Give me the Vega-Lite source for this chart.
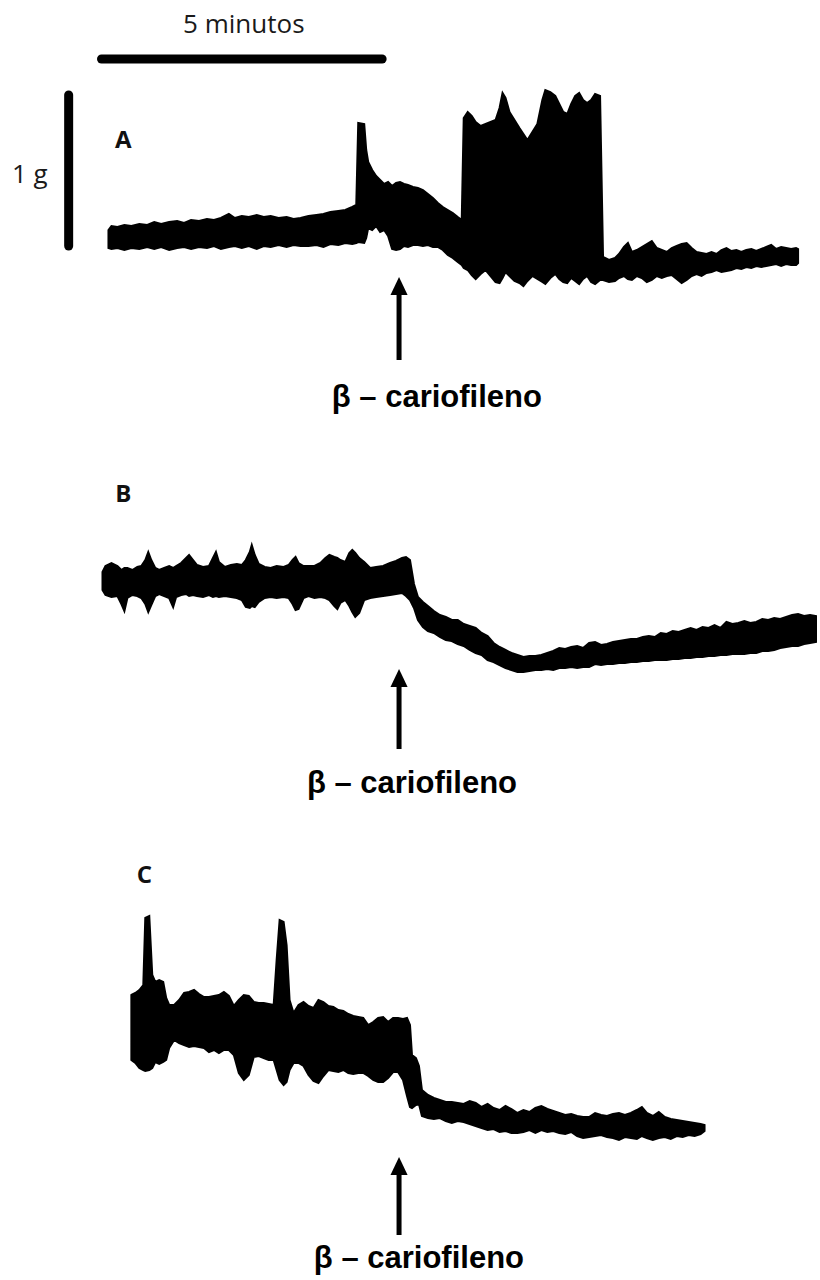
{
  "$schema": "https://vega.github.io/schema/vega-lite/v6.json",
  "width": 820,
  "height": 1280,
  "autosize": {"type": "fit", "contains": "padding"},
  "padding": 0,
  "background": "white",
  "config": {"view": {"stroke": null}},
  "datasets": {
    "traces": [
      {"trace":"A","t":109,"hi":230,"lo":248},{"trace":"A","t":112,"hi":226,"lo":249},{"trace":"A","t":118,"hi":227,"lo":248},{"trace":"A","t":125,"hi":225,"lo":250},{"trace":"A","t":132,"hi":226,"lo":248},{"trace":"A","t":140,"hi":224,"lo":249},{"trace":"A","t":148,"hi":225,"lo":247},{"trace":"A","t":155,"hi":222,"lo":249},{"trace":"A","t":162,"hi":224,"lo":247},{"trace":"A","t":170,"hi":222,"lo":250},{"trace":"A","t":178,"hi":221,"lo":248},{"trace":"A","t":185,"hi":223,"lo":247},{"trace":"A","t":192,"hi":220,"lo":249},{"trace":"A","t":200,"hi":221,"lo":247},{"trace":"A","t":208,"hi":219,"lo":248},{"trace":"A","t":215,"hi":220,"lo":246},{"trace":"A","t":222,"hi":218,"lo":249},{"trace":"A","t":230,"hi":214,"lo":247},{"trace":"A","t":236,"hi":218,"lo":246},{"trace":"A","t":243,"hi":216,"lo":248},{"trace":"A","t":250,"hi":217,"lo":246},{"trace":"A","t":258,"hi":215,"lo":249},{"trace":"A","t":265,"hi":217,"lo":246},{"trace":"A","t":272,"hi":216,"lo":247},{"trace":"A","t":280,"hi":218,"lo":245},{"trace":"A","t":288,"hi":217,"lo":247},{"trace":"A","t":295,"hi":219,"lo":245},{"trace":"A","t":302,"hi":218,"lo":246},{"trace":"A","t":310,"hi":216,"lo":246},{"trace":"A","t":318,"hi":215,"lo":245},{"trace":"A","t":325,"hi":214,"lo":247},{"trace":"A","t":332,"hi":212,"lo":244},{"trace":"A","t":340,"hi":211,"lo":245},{"trace":"A","t":347,"hi":210,"lo":243},{"trace":"A","t":354,"hi":207,"lo":244},{"trace":"A","t":358,"hi":205,"lo":243},{"trace":"A","t":360,"hi":123,"lo":242},{"trace":"A","t":366,"hi":124,"lo":243},{"trace":"A","t":368,"hi":150,"lo":238},{"trace":"A","t":370,"hi":162,"lo":228},{"trace":"A","t":374,"hi":170,"lo":230},{"trace":"A","t":378,"hi":176,"lo":226},{"trace":"A","t":382,"hi":180,"lo":232},{"trace":"A","t":386,"hi":184,"lo":230},{"trace":"A","t":390,"hi":182,"lo":236},{"trace":"A","t":394,"hi":186,"lo":249},{"trace":"A","t":398,"hi":183,"lo":250},{"trace":"A","t":402,"hi":182,"lo":249},{"trace":"A","t":406,"hi":184,"lo":246},{"trace":"A","t":410,"hi":185,"lo":247},{"trace":"A","t":415,"hi":187,"lo":245},{"trace":"A","t":420,"hi":188,"lo":245},{"trace":"A","t":425,"hi":190,"lo":246},{"trace":"A","t":430,"hi":194,"lo":245},{"trace":"A","t":435,"hi":198,"lo":247},{"trace":"A","t":440,"hi":203,"lo":247},{"trace":"A","t":445,"hi":207,"lo":250},{"trace":"A","t":450,"hi":210,"lo":255},{"trace":"A","t":455,"hi":213,"lo":258},{"trace":"A","t":460,"hi":217,"lo":262},{"trace":"A","t":464,"hi":220,"lo":265},{"trace":"A","t":466,"hi":118,"lo":268},{"trace":"A","t":470,"hi":112,"lo":270},{"trace":"A","t":474,"hi":116,"lo":275},{"trace":"A","t":478,"hi":122,"lo":279},{"trace":"A","t":483,"hi":126,"lo":274},{"trace":"A","t":488,"hi":124,"lo":270},{"trace":"A","t":493,"hi":122,"lo":276},{"trace":"A","t":498,"hi":120,"lo":282},{"trace":"A","t":502,"hi":108,"lo":283},{"trace":"A","t":505,"hi":93,"lo":278},{"trace":"A","t":508,"hi":98,"lo":272},{"trace":"A","t":512,"hi":112,"lo":276},{"trace":"A","t":517,"hi":120,"lo":281},{"trace":"A","t":522,"hi":128,"lo":283},{"trace":"A","t":526,"hi":134,"lo":286},{"trace":"A","t":530,"hi":140,"lo":281},{"trace":"A","t":535,"hi":132,"lo":276},{"trace":"A","t":540,"hi":124,"lo":279},{"trace":"A","t":545,"hi":100,"lo":282},{"trace":"A","t":548,"hi":90,"lo":284},{"trace":"A","t":553,"hi":92,"lo":278},{"trace":"A","t":558,"hi":96,"lo":274},{"trace":"A","t":562,"hi":104,"lo":279},{"trace":"A","t":566,"hi":112,"lo":282},{"trace":"A","t":570,"hi":114,"lo":283},{"trace":"A","t":574,"hi":104,"lo":278},{"trace":"A","t":578,"hi":96,"lo":281},{"trace":"A","t":582,"hi":93,"lo":284},{"trace":"A","t":586,"hi":100,"lo":279},{"trace":"A","t":590,"hi":103,"lo":276},{"trace":"A","t":594,"hi":100,"lo":282},{"trace":"A","t":598,"hi":94,"lo":284},{"trace":"A","t":603,"hi":96,"lo":280},{"trace":"A","t":606,"hi":257,"lo":280},{"trace":"A","t":612,"hi":260,"lo":282},{"trace":"A","t":618,"hi":258,"lo":281},{"trace":"A","t":622,"hi":254,"lo":278},{"trace":"A","t":627,"hi":247,"lo":276},{"trace":"A","t":631,"hi":243,"lo":279},{"trace":"A","t":635,"hi":252,"lo":280},{"trace":"A","t":640,"hi":250,"lo":276},{"trace":"A","t":645,"hi":247,"lo":278},{"trace":"A","t":650,"hi":244,"lo":282},{"trace":"A","t":655,"hi":241,"lo":280},{"trace":"A","t":660,"hi":248,"lo":276},{"trace":"A","t":665,"hi":250,"lo":278},{"trace":"A","t":670,"hi":252,"lo":276},{"trace":"A","t":675,"hi":248,"lo":275},{"trace":"A","t":680,"hi":246,"lo":279},{"trace":"A","t":685,"hi":244,"lo":283},{"trace":"A","t":690,"hi":243,"lo":280},{"trace":"A","t":695,"hi":248,"lo":276},{"trace":"A","t":700,"hi":252,"lo":274},{"trace":"A","t":705,"hi":253,"lo":276},{"trace":"A","t":710,"hi":254,"lo":273},{"trace":"A","t":715,"hi":252,"lo":272},{"trace":"A","t":720,"hi":254,"lo":270},{"trace":"A","t":725,"hi":250,"lo":272},{"trace":"A","t":730,"hi":248,"lo":271},{"trace":"A","t":735,"hi":251,"lo":270},{"trace":"A","t":740,"hi":250,"lo":268},{"trace":"A","t":745,"hi":252,"lo":269},{"trace":"A","t":750,"hi":250,"lo":267},{"trace":"A","t":755,"hi":249,"lo":268},{"trace":"A","t":760,"hi":251,"lo":266},{"trace":"A","t":765,"hi":249,"lo":267},{"trace":"A","t":770,"hi":247,"lo":266},{"trace":"A","t":775,"hi":245,"lo":265},{"trace":"A","t":780,"hi":249,"lo":264},{"trace":"A","t":785,"hi":247,"lo":266},{"trace":"A","t":790,"hi":248,"lo":264},{"trace":"A","t":795,"hi":249,"lo":265},{"trace":"A","t":800,"hi":248,"lo":265},{"trace":"A","t":802,"hi":249,"lo":263},

      {"trace":"B","t":103,"hi":572,"lo":590},{"trace":"B","t":106,"hi":566,"lo":595},{"trace":"B","t":112,"hi":563,"lo":597},{"trace":"B","t":118,"hi":566,"lo":596},{"trace":"B","t":122,"hi":570,"lo":604},{"trace":"B","t":125,"hi":568,"lo":611},{"trace":"B","t":128,"hi":568,"lo":598},{"trace":"B","t":133,"hi":570,"lo":595},{"trace":"B","t":138,"hi":567,"lo":596},{"trace":"B","t":142,"hi":566,"lo":598},{"trace":"B","t":146,"hi":560,"lo":604},{"trace":"B","t":149,"hi":552,"lo":612},{"trace":"B","t":152,"hi":560,"lo":605},{"trace":"B","t":156,"hi":568,"lo":596},{"trace":"B","t":160,"hi":570,"lo":594},{"trace":"B","t":165,"hi":568,"lo":596},{"trace":"B","t":170,"hi":566,"lo":598},{"trace":"B","t":174,"hi":568,"lo":607},{"trace":"B","t":177,"hi":566,"lo":597},{"trace":"B","t":182,"hi":563,"lo":595},{"trace":"B","t":187,"hi":558,"lo":594},{"trace":"B","t":190,"hi":555,"lo":596},{"trace":"B","t":194,"hi":560,"lo":595},{"trace":"B","t":198,"hi":565,"lo":596},{"trace":"B","t":204,"hi":567,"lo":597},{"trace":"B","t":210,"hi":566,"lo":595},{"trace":"B","t":214,"hi":558,"lo":597},{"trace":"B","t":217,"hi":552,"lo":596},{"trace":"B","t":220,"hi":562,"lo":597},{"trace":"B","t":226,"hi":567,"lo":596},{"trace":"B","t":232,"hi":565,"lo":597},{"trace":"B","t":238,"hi":564,"lo":598},{"trace":"B","t":243,"hi":565,"lo":600},{"trace":"B","t":247,"hi":560,"lo":607},{"trace":"B","t":251,"hi":552,"lo":608},{"trace":"B","t":253,"hi":545,"lo":606},{"trace":"B","t":256,"hi":555,"lo":607},{"trace":"B","t":260,"hi":564,"lo":602},{"trace":"B","t":266,"hi":567,"lo":598},{"trace":"B","t":272,"hi":568,"lo":597},{"trace":"B","t":278,"hi":566,"lo":598},{"trace":"B","t":285,"hi":567,"lo":597},{"trace":"B","t":290,"hi":565,"lo":598},{"trace":"B","t":294,"hi":560,"lo":604},{"trace":"B","t":297,"hi":557,"lo":610},{"trace":"B","t":300,"hi":563,"lo":609},{"trace":"B","t":305,"hi":566,"lo":598},{"trace":"B","t":310,"hi":566,"lo":596},{"trace":"B","t":316,"hi":566,"lo":598},{"trace":"B","t":322,"hi":563,"lo":597},{"trace":"B","t":327,"hi":558,"lo":598},{"trace":"B","t":331,"hi":555,"lo":600},{"trace":"B","t":336,"hi":557,"lo":606},{"trace":"B","t":339,"hi":558,"lo":609},{"trace":"B","t":342,"hi":560,"lo":603},{"trace":"B","t":347,"hi":562,"lo":600},{"trace":"B","t":351,"hi":553,"lo":606},{"trace":"B","t":354,"hi":550,"lo":612},{"trace":"B","t":357,"hi":553,"lo":617},{"trace":"B","t":361,"hi":558,"lo":613},{"trace":"B","t":366,"hi":562,"lo":600},{"trace":"B","t":372,"hi":568,"lo":598},{"trace":"B","t":378,"hi":567,"lo":597},{"trace":"B","t":385,"hi":566,"lo":596},{"trace":"B","t":392,"hi":563,"lo":595},{"trace":"B","t":398,"hi":561,"lo":594},{"trace":"B","t":404,"hi":558,"lo":593},{"trace":"B","t":408,"hi":557,"lo":596},{"trace":"B","t":412,"hi":560,"lo":600},{"trace":"B","t":416,"hi":584,"lo":608},{"trace":"B","t":420,"hi":597,"lo":620},{"trace":"B","t":425,"hi":602,"lo":627},{"trace":"B","t":430,"hi":606,"lo":631},{"trace":"B","t":436,"hi":611,"lo":633},{"trace":"B","t":442,"hi":615,"lo":637},{"trace":"B","t":448,"hi":617,"lo":640},{"trace":"B","t":454,"hi":620,"lo":641},{"trace":"B","t":460,"hi":620,"lo":644},{"trace":"B","t":466,"hi":624,"lo":646},{"trace":"B","t":472,"hi":626,"lo":650},{"trace":"B","t":478,"hi":628,"lo":653},{"trace":"B","t":484,"hi":633,"lo":655},{"trace":"B","t":490,"hi":636,"lo":660},{"trace":"B","t":496,"hi":643,"lo":662},{"trace":"B","t":502,"hi":647,"lo":665},{"trace":"B","t":508,"hi":650,"lo":668},{"trace":"B","t":514,"hi":653,"lo":670},{"trace":"B","t":520,"hi":655,"lo":672},{"trace":"B","t":526,"hi":657,"lo":672},{"trace":"B","t":532,"hi":656,"lo":671},{"trace":"B","t":538,"hi":656,"lo":670},{"trace":"B","t":544,"hi":655,"lo":670},{"trace":"B","t":550,"hi":653,"lo":669},{"trace":"B","t":556,"hi":651,"lo":670},{"trace":"B","t":562,"hi":648,"lo":668},{"trace":"B","t":568,"hi":649,"lo":668},{"trace":"B","t":574,"hi":647,"lo":667},{"trace":"B","t":580,"hi":646,"lo":668},{"trace":"B","t":586,"hi":648,"lo":667},{"trace":"B","t":592,"hi":643,"lo":667},{"trace":"B","t":598,"hi":642,"lo":664},{"trace":"B","t":604,"hi":645,"lo":665},{"trace":"B","t":610,"hi":644,"lo":664},{"trace":"B","t":616,"hi":642,"lo":664},{"trace":"B","t":622,"hi":641,"lo":663},{"trace":"B","t":628,"hi":640,"lo":663},{"trace":"B","t":634,"hi":639,"lo":662},{"trace":"B","t":640,"hi":639,"lo":662},{"trace":"B","t":646,"hi":637,"lo":661},{"trace":"B","t":652,"hi":636,"lo":661},{"trace":"B","t":658,"hi":637,"lo":660},{"trace":"B","t":664,"hi":633,"lo":660},{"trace":"B","t":670,"hi":634,"lo":660},{"trace":"B","t":676,"hi":631,"lo":659},{"trace":"B","t":682,"hi":632,"lo":659},{"trace":"B","t":688,"hi":630,"lo":658},{"trace":"B","t":694,"hi":628,"lo":658},{"trace":"B","t":700,"hi":630,"lo":657},{"trace":"B","t":706,"hi":627,"lo":657},{"trace":"B","t":712,"hi":628,"lo":656},{"trace":"B","t":718,"hi":625,"lo":656},{"trace":"B","t":724,"hi":628,"lo":655},{"trace":"B","t":730,"hi":622,"lo":655},{"trace":"B","t":736,"hi":624,"lo":654},{"trace":"B","t":742,"hi":623,"lo":654},{"trace":"B","t":748,"hi":621,"lo":654},{"trace":"B","t":754,"hi":623,"lo":653},{"trace":"B","t":760,"hi":622,"lo":653},{"trace":"B","t":766,"hi":619,"lo":651},{"trace":"B","t":772,"hi":620,"lo":651},{"trace":"B","t":778,"hi":618,"lo":650},{"trace":"B","t":784,"hi":619,"lo":648},{"trace":"B","t":790,"hi":617,"lo":647},{"trace":"B","t":796,"hi":615,"lo":646},{"trace":"B","t":802,"hi":614,"lo":646},{"trace":"B","t":808,"hi":616,"lo":644},{"trace":"B","t":814,"hi":615,"lo":643},{"trace":"B","t":820,"hi":616,"lo":642},

      {"trace":"C","t":132,"hi":995,"lo":1060},{"trace":"C","t":136,"hi":993,"lo":1063},{"trace":"C","t":140,"hi":990,"lo":1068},{"trace":"C","t":144,"hi":985,"lo":1070},{"trace":"C","t":146,"hi":918,"lo":1071},{"trace":"C","t":150,"hi":916,"lo":1070},{"trace":"C","t":153,"hi":975,"lo":1068},{"trace":"C","t":156,"hi":982,"lo":1062},{"trace":"C","t":160,"hi":980,"lo":1064},{"trace":"C","t":164,"hi":982,"lo":1062},{"trace":"C","t":167,"hi":998,"lo":1060},{"trace":"C","t":170,"hi":1005,"lo":1048},{"trace":"C","t":175,"hi":1005,"lo":1040},{"trace":"C","t":180,"hi":1000,"lo":1043},{"trace":"C","t":185,"hi":993,"lo":1045},{"trace":"C","t":190,"hi":992,"lo":1047},{"trace":"C","t":195,"hi":990,"lo":1046},{"trace":"C","t":200,"hi":994,"lo":1047},{"trace":"C","t":205,"hi":997,"lo":1048},{"trace":"C","t":210,"hi":997,"lo":1052},{"trace":"C","t":215,"hi":996,"lo":1050},{"trace":"C","t":220,"hi":995,"lo":1053},{"trace":"C","t":225,"hi":992,"lo":1050},{"trace":"C","t":230,"hi":996,"lo":1050},{"trace":"C","t":235,"hi":1006,"lo":1055},{"trace":"C","t":240,"hi":1000,"lo":1073},{"trace":"C","t":245,"hi":995,"lo":1080},{"trace":"C","t":250,"hi":996,"lo":1075},{"trace":"C","t":255,"hi":1002,"lo":1057},{"trace":"C","t":260,"hi":1003,"lo":1056},{"trace":"C","t":265,"hi":1003,"lo":1058},{"trace":"C","t":270,"hi":1004,"lo":1060},{"trace":"C","t":275,"hi":1005,"lo":1060},{"trace":"C","t":278,"hi":960,"lo":1070},{"trace":"C","t":281,"hi":920,"lo":1080},{"trace":"C","t":285,"hi":922,"lo":1085},{"trace":"C","t":288,"hi":945,"lo":1082},{"trace":"C","t":291,"hi":1000,"lo":1070},{"trace":"C","t":295,"hi":1013,"lo":1063},{"trace":"C","t":300,"hi":1005,"lo":1063},{"trace":"C","t":305,"hi":1002,"lo":1066},{"trace":"C","t":310,"hi":1006,"lo":1075},{"trace":"C","t":315,"hi":1008,"lo":1081},{"trace":"C","t":320,"hi":1000,"lo":1083},{"trace":"C","t":325,"hi":1002,"lo":1076},{"trace":"C","t":330,"hi":1006,"lo":1070},{"trace":"C","t":335,"hi":1007,"lo":1071},{"trace":"C","t":340,"hi":1010,"lo":1072},{"trace":"C","t":345,"hi":1011,"lo":1070},{"trace":"C","t":350,"hi":1014,"lo":1073},{"trace":"C","t":355,"hi":1016,"lo":1074},{"trace":"C","t":360,"hi":1017,"lo":1073},{"trace":"C","t":365,"hi":1018,"lo":1073},{"trace":"C","t":370,"hi":1025,"lo":1076},{"trace":"C","t":375,"hi":1022,"lo":1080},{"trace":"C","t":380,"hi":1018,"lo":1082},{"trace":"C","t":385,"hi":1017,"lo":1082},{"trace":"C","t":390,"hi":1022,"lo":1078},{"trace":"C","t":395,"hi":1018,"lo":1072},{"trace":"C","t":400,"hi":1018,"lo":1072},{"trace":"C","t":405,"hi":1019,"lo":1080},{"trace":"C","t":409,"hi":1018,"lo":1096},{"trace":"C","t":412,"hi":1025,"lo":1107},{"trace":"C","t":414,"hi":1055,"lo":1108},{"trace":"C","t":418,"hi":1058,"lo":1105},{"trace":"C","t":421,"hi":1066,"lo":1104},{"trace":"C","t":424,"hi":1090,"lo":1116},{"trace":"C","t":430,"hi":1095,"lo":1118},{"trace":"C","t":436,"hi":1098,"lo":1119},{"trace":"C","t":442,"hi":1100,"lo":1118},{"trace":"C","t":448,"hi":1102,"lo":1121},{"trace":"C","t":454,"hi":1102,"lo":1123},{"trace":"C","t":460,"hi":1103,"lo":1121},{"trace":"C","t":466,"hi":1104,"lo":1122},{"trace":"C","t":472,"hi":1101,"lo":1124},{"trace":"C","t":478,"hi":1103,"lo":1126},{"trace":"C","t":484,"hi":1107,"lo":1128},{"trace":"C","t":490,"hi":1104,"lo":1130},{"trace":"C","t":496,"hi":1108,"lo":1129},{"trace":"C","t":502,"hi":1110,"lo":1132},{"trace":"C","t":508,"hi":1106,"lo":1131},{"trace":"C","t":514,"hi":1109,"lo":1133},{"trace":"C","t":520,"hi":1113,"lo":1133},{"trace":"C","t":526,"hi":1110,"lo":1132},{"trace":"C","t":532,"hi":1112,"lo":1130},{"trace":"C","t":538,"hi":1108,"lo":1133},{"trace":"C","t":544,"hi":1106,"lo":1130},{"trace":"C","t":550,"hi":1109,"lo":1132},{"trace":"C","t":556,"hi":1111,"lo":1131},{"trace":"C","t":562,"hi":1113,"lo":1133},{"trace":"C","t":568,"hi":1115,"lo":1134},{"trace":"C","t":574,"hi":1114,"lo":1132},{"trace":"C","t":580,"hi":1116,"lo":1136},{"trace":"C","t":586,"hi":1117,"lo":1138},{"trace":"C","t":592,"hi":1117,"lo":1137},{"trace":"C","t":598,"hi":1113,"lo":1136},{"trace":"C","t":604,"hi":1115,"lo":1135},{"trace":"C","t":610,"hi":1116,"lo":1137},{"trace":"C","t":616,"hi":1114,"lo":1138},{"trace":"C","t":622,"hi":1113,"lo":1140},{"trace":"C","t":628,"hi":1115,"lo":1137},{"trace":"C","t":634,"hi":1113,"lo":1138},{"trace":"C","t":640,"hi":1110,"lo":1139},{"trace":"C","t":645,"hi":1107,"lo":1136},{"trace":"C","t":650,"hi":1113,"lo":1138},{"trace":"C","t":656,"hi":1116,"lo":1140},{"trace":"C","t":662,"hi":1112,"lo":1138},{"trace":"C","t":668,"hi":1117,"lo":1137},{"trace":"C","t":674,"hi":1119,"lo":1139},{"trace":"C","t":680,"hi":1120,"lo":1136},{"trace":"C","t":686,"hi":1121,"lo":1137},{"trace":"C","t":692,"hi":1122,"lo":1135},{"trace":"C","t":698,"hi":1123,"lo":1136},{"trace":"C","t":704,"hi":1124,"lo":1134},{"trace":"C","t":708,"hi":1125,"lo":1131}
    ],
    "scalebars": [
      {"bar":"5 minutos","x":102,"x2":384,"y":59,"y2":59},
      {"bar":"1 g","x":69,"x2":69,"y":95,"y2":246}
    ],
    "shafts": [
      {"panel":"A","x":401,"y":290,"y2":360},
      {"panel":"B","x":401,"y":682,"y2":749},
      {"panel":"C","x":401,"y":1170,"y2":1235}
    ],
    "heads": [
      {"panel":"A","x":401,"y":286},
      {"panel":"B","x":401,"y":678},
      {"panel":"C","x":401,"y":1166}
    ],
    "drugLabels": [
      {"panel":"A","x":439,"y":407,"label":"β – cariofileno"},
      {"panel":"B","x":414,"y":793,"label":"β – cariofileno"},
      {"panel":"C","x":421,"y":1268,"label":"β – cariofileno"}
    ],
    "panelLetters": [
      {"x":124,"y":148,"label":"A"},
      {"x":124,"y":502,"label":"B"},
      {"x":145,"y":883,"label":"C"}
    ],
    "scaleLabels": [
      {"x":245,"y":33,"label":"5 minutos"},
      {"x":30,"y":183,"label":"1 g"}
    ]
  },
  "layer": [
    {
      "data": {"name": "traces"},
      "mark": {"type": "area", "color": "black", "stroke": "black", "strokeWidth": 2, "strokeJoin": "miter", "interpolate": "linear"},
      "encoding": {
        "x": {"field": "t", "type": "quantitative", "scale": {"domain": [0, 820], "nice": false, "zero": false}, "axis": null},
        "y": {"field": "hi", "type": "quantitative", "scale": {"domain": [0, 1280], "reverse": true, "nice": false, "zero": false}, "axis": null},
        "y2": {"field": "lo"},
        "detail": {"field": "trace", "type": "nominal"}
      }
    },
    {
      "data": {"name": "scalebars"},
      "mark": {"type": "rule", "color": "black", "strokeWidth": 9, "strokeCap": "round"},
      "encoding": {
        "x": {"field": "x", "type": "quantitative", "scale": {"domain": [0, 820], "nice": false, "zero": false}, "axis": null},
        "x2": {"field": "x2"},
        "y": {"field": "y", "type": "quantitative", "scale": {"domain": [0, 1280], "reverse": true, "nice": false, "zero": false}, "axis": null},
        "y2": {"field": "y2"}
      }
    },
    {
      "data": {"name": "shafts"},
      "mark": {"type": "rule", "color": "black", "strokeWidth": 5},
      "encoding": {
        "x": {"field": "x", "type": "quantitative", "scale": {"domain": [0, 820], "nice": false, "zero": false}, "axis": null},
        "y": {"field": "y", "type": "quantitative", "scale": {"domain": [0, 1280], "reverse": true, "nice": false, "zero": false}, "axis": null},
        "y2": {"field": "y2"}
      }
    },
    {
      "data": {"name": "heads"},
      "mark": {"type": "point", "shape": "M0,-1L0.95,1L-0.95,1Z", "size": 324, "filled": true, "color": "black", "opacity": 1},
      "encoding": {
        "x": {"field": "x", "type": "quantitative", "scale": {"domain": [0, 820], "nice": false, "zero": false}, "axis": null},
        "y": {"field": "y", "type": "quantitative", "scale": {"domain": [0, 1280], "reverse": true, "nice": false, "zero": false}, "axis": null}
      }
    },
    {
      "data": {"name": "drugLabels"},
      "mark": {"type": "text", "font": "Liberation Sans", "fontSize": 31, "fontWeight": "bold", "color": "black", "align": "center", "baseline": "alphabetic"},
      "encoding": {
        "x": {"field": "x", "type": "quantitative", "scale": {"domain": [0, 820], "nice": false, "zero": false}, "axis": null},
        "y": {"field": "y", "type": "quantitative", "scale": {"domain": [0, 1280], "reverse": true, "nice": false, "zero": false}, "axis": null},
        "text": {"field": "label"}
      }
    },
    {
      "data": {"name": "panelLetters"},
      "mark": {"type": "text", "font": "Open Sans", "fontSize": 24, "fontWeight": "bold", "color": "#111111", "align": "center", "baseline": "alphabetic"},
      "encoding": {
        "x": {"field": "x", "type": "quantitative", "scale": {"domain": [0, 820], "nice": false, "zero": false}, "axis": null},
        "y": {"field": "y", "type": "quantitative", "scale": {"domain": [0, 1280], "reverse": true, "nice": false, "zero": false}, "axis": null},
        "text": {"field": "label"}
      }
    },
    {
      "data": {"name": "scaleLabels"},
      "mark": {"type": "text", "font": "Open Sans", "fontSize": 26, "color": "#1a1a1a", "align": "center", "baseline": "alphabetic"},
      "encoding": {
        "x": {"field": "x", "type": "quantitative", "scale": {"domain": [0, 820], "nice": false, "zero": false}, "axis": null},
        "y": {"field": "y", "type": "quantitative", "scale": {"domain": [0, 1280], "reverse": true, "nice": false, "zero": false}, "axis": null},
        "text": {"field": "label"}
      }
    }
  ]
}
